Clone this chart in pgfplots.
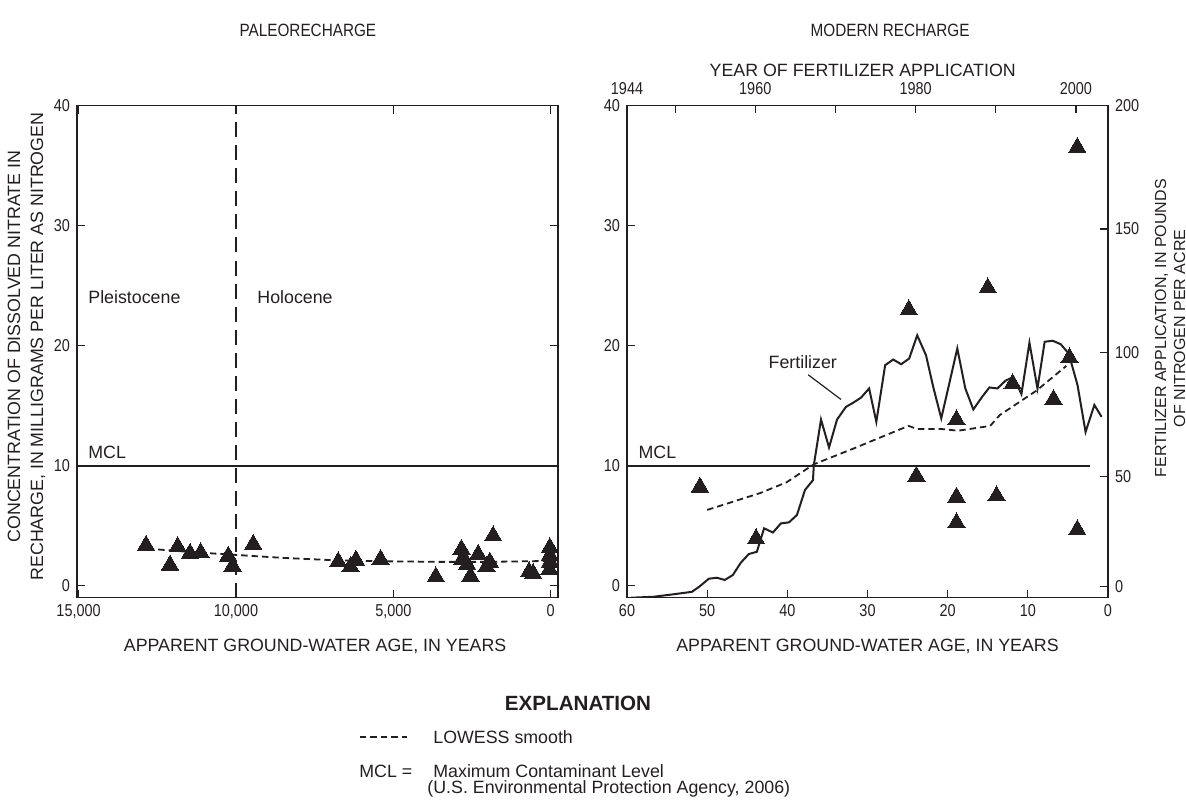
\documentclass[border=0pt]{standalone}
\usepackage{fontspec}
\setmainfont{Liberation Sans}
\newfontfamily\tickfamily{Liberation Sans}[FakeStretch=0.84]
\newfontfamily\titlefamily{Liberation Sans}[FakeStretch=0.86]
\usepackage{pgfplots}
\pgfplotsset{compat=1.18}
\usepackage{pgfplotstable}

\definecolor{ink}{HTML}{231F20}
\newcommand{\lab}{\fontsize{8.9}{11.5}\selectfont}
\newcommand{\tk}{\tickfamily\fontsize{8.6}{10}\selectfont}
\newcommand{\ttl}{\titlefamily\fontsize{8.9}{11}\selectfont}

% Paleorecharge samples: apparent age (years) and nitrate (mg/L as N)
\pgfplotstableread{
age conc
12857 3.34
12095 1.70
11851 3.23
11460 2.67
11121 2.73
10244 2.45
10105 1.61
9451 3.43
6752 1.98
6360 1.56
6190 2.12
5407 2.17
3651 0.72
2836 3.01
2815 2.17
2656 1.75
2550 0.78
2307 2.59
2042 1.56
1936 1.95
1831 4.13
689 1.14
562 1.00
30 3.15
30 2.50
20 1.95
40 1.33
}\paleo

\pgfplotstableread{
age conc
12800 3.07
11500 2.80
10250 2.59
8500 2.30
6750 2.09
5400 2.02
3500 1.97
2000 1.97
500 2.03
-230 2.08
}\paleolowess

% Modern recharge samples
\pgfplotstableread{
age conc
3.83 36.5
24.85 22.97
15.0 24.8
4.8 18.97
11.9 16.8
6.8 15.5
18.9 13.8
23.9 9.1
18.9 7.36
13.9 7.47
18.9 5.22
3.83 4.64
43.9 3.89
50.9 8.2
}\modern

\pgfplotstableread{
age conc
50.0 6.3
46.7 7.0
43.4 7.7
40.1 8.6
36.7 10.1
31.8 11.4
24.9 13.3
23.8 13.05
20.9 13.05
18.7 12.9
14.7 13.3
13.5 14.2
8.9 16.25
5.2 18.3
}\modernlowess

% Fertilizer application (lb N per acre) by age of application year
\pgfplotstableread{
age fert
59.5 0.8
56.7 1.2
54.2 2.2
51.9 3.2
50.9 5.5
49.8 8.5
48.8 8.9
47.8 8.0
46.8 10.0
45.8 15.0
44.8 18.5
43.8 19.4
42.9 28.9
41.8 27.2
40.8 30.9
39.8 31.3
38.8 34.3
37.8 44.4
36.8 48.4
36.7 54.4
35.8 72.9
34.8 61.6
33.8 72.9
32.7 78.0
31.8 79.7
30.8 81.8
29.8 85.5
28.9 72.0
27.8 94.9
26.8 97.2
25.8 95.3
24.8 97.6
23.8 107.0
22.7 98.9
21.8 86.1
20.8 73.4
19.8 87.5
18.8 101.7
17.8 85.5
16.8 77.0
15.7 82.1
14.8 85.9
13.8 85.5
12.8 88.6
11.8 90.2
10.8 83.2
9.8 104.0
8.8 85.5
7.9 104.4
6.9 104.8
5.9 103.4
4.9 99.6
3.8 86.8
2.8 67.9
1.7 78.8
0.8 74.0
}\fert

\pgfplotsset{
  panel/.style={
    scale only axis, width=240.5pt, height=246pt, anchor=south west,
    tick align=inside, major tick length=4pt,
    axis line style={line width=0.75pt, ink},
    every tick/.style={line width=0.6pt, ink},
    ticklabel style={font=\tk, text=ink},
    label style={font=\lab, text=ink},
    title style={font=\ttl, text=ink},
    scaled ticks=false,
    /pgf/number format/assume math mode=true,
  },
  pts/.style={only marks, mark=triangle*, mark size=5pt, ink, mark options={fill=ink, draw=ink, line width=0pt}},
  lowess/.style={no marks, ink, line width=0.9pt, dash pattern=on 3.2pt off 2pt},
}

\begin{document}
\begin{tikzpicture}
\path[use as bounding box] (0,0) rectangle (593pt,-400.5pt);

% ---------------- Paleorecharge ----------------
\begin{axis}[panel, at={(38.5pt,-298.75pt)},
  x dir=reverse, xmin=-230, xmax=15050, ymin=-1, ymax=40,
  xtick={0,5000,10000,15000}, xticklabels={0,{5,000},{10,000},{15,000}},
  ytick={0,10,20,30,40}, yticklabels={0,10,20,30,40},
  title={PALEORECHARGE},
  title style={at={(axis description cs:0.48,1.128)}, anchor=center},
  xlabel={APPARENT GROUND-WATER AGE, IN YEARS},
  xlabel style={at={(axis description cs:0.495,-0.0996)}, anchor=center},
  ylabel={CONCENTRATION OF DISSOLVED NITRATE IN\\RECHARGE, IN MILLIGRAMS PER LITER AS NITROGEN},
  ylabel style={at={(axis description cs:-0.105,0.51)}, anchor=center, align=center},
]
\addplot[ink, line width=1pt] coordinates {(15050,10) (-230,10)};
\addplot[ink, line width=1.2pt, dash pattern=on 7.5pt off 4pt] coordinates {(10000,-1) (10000,40)};
\addplot[lowess] table[x=age, y=conc] {\paleolowess};
\addplot[pts] table[x=age, y=conc] {\paleo};
\node[font=\lab, text=ink, anchor=south west, inner sep=0pt] at (axis cs:14700,10.55) {MCL};
\node[font=\lab, text=ink, anchor=west, inner sep=0pt] at (axis cs:14700,24.0) {Pleistocene};
\node[font=\lab, text=ink, anchor=west, inner sep=0pt] at (axis cs:9330,24.0) {Holocene};
\end{axis}

% ---------------- Modern recharge ----------------
\begin{axis}[panel, at={(313.5pt,-298.75pt)},
  x dir=reverse, xmin=0, xmax=60, ymin=-1, ymax=40,
  xtick={0,10,20,30,40,50,60}, xticklabels={0,10,20,30,40,50,60},
  ytick={0,10,20,30,40}, yticklabels={0,10,20,30,40},
  xtick pos=bottom, ytick pos=left,
  title={MODERN RECHARGE},
  title style={at={(axis description cs:0.547,1.128)}, anchor=center},
  xlabel={APPARENT GROUND-WATER AGE, IN YEARS},
  xlabel style={at={(axis description cs:0.5,-0.0996)}, anchor=center},
]
\addplot[ink, line width=1pt] coordinates {(60,10) (2.3,10)};
\addplot[lowess] table[x=age, y=conc] {\modernlowess};
\addplot[pts] table[x=age, y=conc] {\modern};
\node[font=\lab, text=ink, anchor=south west, inner sep=0pt] at (axis cs:58.6,10.55) {MCL};
\node[font=\lab, text=ink, anchor=center, inner sep=0pt] at (axis cs:38.07,18.6) {Fertilizer};
\draw[ink, line width=0.6pt] (axis cs:37.4,17.56) -- (axis cs:33.3,15.5);
\end{axis}

% fertilizer scale on the right
\begin{axis}[panel, at={(313.5pt,-298.75pt)},
  x dir=reverse, xmin=0, xmax=60, ymin=0.9, ymax=200,
  axis x line=none, axis y line*=right,
  ytick={5.5,50,100,150,200}, yticklabels={0,50,100,150,200},
  ylabel={FERTILIZER APPLICATION, IN POUNDS\\OF NITROGEN PER ACRE},
  ylabel style={at={(axis description cs:1.129,0.547)}, anchor=center, align=center,
    font=\fontsize{8}{9.5}\selectfont},
]
\addplot[ink, line width=1pt, no marks] table[x=age, y=fert] {\fert};
\end{axis}

% year of application along the top
\begin{axis}[panel, at={(313.5pt,-298.75pt)},
  xmin=1944, xmax=2004, ymin=0, ymax=1,
  axis y line=none, axis x line*=top,
  xtick={1944,1950,1960,1970,1980,1990,2000},
  xticklabels={1944,,1960,,1980,,2000},
  xticklabel style={yshift=2pt},
  xlabel={YEAR OF FERTILIZER APPLICATION},
  xlabel style={at={(axis description cs:0.49,1.071)}, anchor=center},
]
\end{axis}

% explanation
\node[font=\fontsize{10.3}{12}\selectfont\bfseries, text=ink, anchor=base] at (289pt,-355pt) {EXPLANATION};
\draw[ink, line width=0.9pt, dash pattern=on 3.2pt off 2pt] (180pt,-368.5pt) -- (203.5pt,-368.5pt);
\node[font=\lab, text=ink, anchor=base west, inner sep=0pt] at (216.5pt,-371.5pt) {LOWESS smooth};
\node[font=\lab, text=ink, anchor=base west, inner sep=0pt] at (179.5pt,-388.5pt) {MCL =};
\node[font=\lab, text=ink, anchor=base west, inner sep=0pt] at (216.5pt,-388.5pt) {Maximum Contaminant Level};
\node[font=\lab, text=ink, anchor=base west, inner sep=0pt] at (213.5pt,-396.5pt) {(U.S. Environmental Protection Agency, 2006)};
\end{tikzpicture}
\end{document}
